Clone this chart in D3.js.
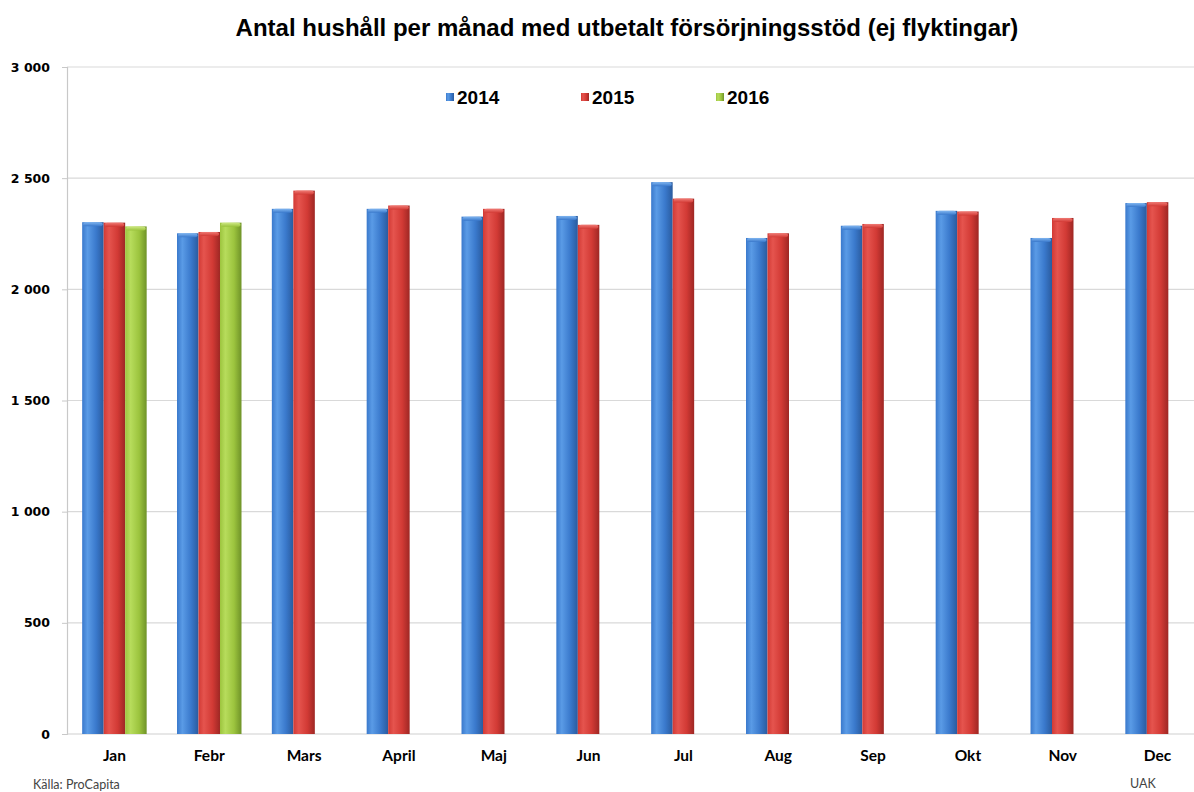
<!DOCTYPE html>
<html>
<head>
<meta charset="utf-8">
<script src="https://cdn.jsdelivr.net/npm/d3@7"></script>
<style>
html,body{margin:0;padding:0;background:#fff;}
svg{display:block;}
</style>
</head>
<body>
<svg id="chart" width="1194" height="792"></svg>
<script>
const months = ["Jan","Febr","Mars","April","Maj","Jun","Jul","Aug","Sep","Okt","Nov","Dec"];
const seriesNames = ["2014","2015","2016"];
const values2014 = [2302,2252,2362,2362,2327,2330,2482,2231,2286,2353,2231,2388];
const values2015 = [2300,2258,2444,2377,2362,2290,2408,2252,2294,2350,2321,2392];
const values2016 = [2283,2300,null,null,null,null,null,null,null,null,null,null];
const yTicks = [0,500,1000,1500,2000,2500,3000];
const titleText = "Antal hushåll per månad med utbetalt försörjningsstöd (ej flyktingar)";
const sourceText = "Källa: ProCapita";
const authorText = "UAK";

(function(){
const allSeries = [values2014, values2015, values2016];
const colors = [
  {light:"#5a9be6", mid:"#3a79cc", dark:"#2a5b9e", cap:"#7fb5f0"},
  {light:"#e5544e", mid:"#d23a35", dark:"#9e2724", cap:"#f07a74"},
  {light:"#b7dc5c", mid:"#9cc43e", dark:"#6f9328", cap:"#cfe985"}
];

const svg = d3.select("#chart");
const W = 1194, H = 792;
const pLeft = 67, pRight = 1205, pTop = 67, pBottom = 734;

const x = d3.scaleBand().domain(months).range([pLeft, pRight]).paddingInner(0.32).paddingOuter(0.16);
const xs = d3.scaleBand().domain(seriesNames).range([0, x.bandwidth()]);
const y = d3.scaleLinear().domain([0, 3000]).range([pBottom, pTop]);

const defs = svg.append("defs");
colors.forEach((c, i) => {
  const g = defs.append("linearGradient").attr("id", "g" + i).attr("x1", "0").attr("x2", "1").attr("y1", "0").attr("y2", "0");
  g.append("stop").attr("offset", "0%").attr("stop-color", c.mid);
  g.append("stop").attr("offset", "25%").attr("stop-color", c.light);
  g.append("stop").attr("offset", "65%").attr("stop-color", c.mid);
  g.append("stop").attr("offset", "100%").attr("stop-color", c.dark);
  const gc = defs.append("linearGradient").attr("id", "c" + i).attr("x1", "0").attr("x2", "0").attr("y1", "0").attr("y2", "1");
  gc.append("stop").attr("offset", "0%").attr("stop-color", c.cap);
  gc.append("stop").attr("offset", "100%").attr("stop-color", c.mid);
});
defs.append("clipPath").attr("id", "clip").append("rect").attr("x", 0).attr("y", 0).attr("width", W).attr("height", H);

// Gridlines
const gridG = svg.append("g");
gridG.selectAll("line").data(yTicks.filter(d => d > 0)).enter().append("line")
  .attr("x1", pLeft).attr("x2", W).attr("y1", d => y(d)).attr("y2", d => y(d))
  .attr("stroke", "#d9d9d9").attr("stroke-width", 1.2);

// Y axis
const yAxis = d3.axisLeft(y).tickValues(yTicks).tickSize(5).tickPadding(12)
  .tickFormat(d => d3.format(",")(d).replace(/,/g, "\u00a0"));
const yg = svg.append("g").attr("transform", `translate(${pLeft},0)`).call(yAxis);
yg.select(".domain").attr("stroke", "#c8c8c8").attr("stroke-width", 1.2);
yg.selectAll(".tick line").attr("stroke", "#c8c8c8");
yg.selectAll(".tick text").attr("font-family", "DejaVu Sans, Verdana, sans-serif").attr("font-weight", "bold").attr("font-size", "12.5px").attr("fill", "#000");

// X axis baseline
svg.append("line").attr("x1", pLeft).attr("x2", W).attr("y1", pBottom).attr("y2", pBottom).attr("stroke", "#d0d0d0").attr("stroke-width", 1.2);

// X labels via axis
const xAxis = d3.axisBottom(x).tickSize(0).tickPadding(16);
const xg = svg.append("g").attr("transform", `translate(0,${pBottom})`).call(xAxis);
xg.select(".domain").remove();
xg.selectAll(".tick text").attr("font-family", "Lato, Open Sans, sans-serif").attr("font-weight", "bold").attr("font-size", "15.5px").attr("fill", "#000");

// Bars
const barsG = svg.append("g").attr("clip-path", "url(#clip)");
allSeries.forEach((vals, si) => {
  const data = months.map((m, i) => ({m, v: vals[i]})).filter(d => d.v != null);
  const g = barsG.append("g");
  g.selectAll("rect.bar").data(data).enter().append("rect").attr("class", "bar")
    .attr("x", d => x(d.m) + xs(seriesNames[si]))
    .attr("y", d => y(d.v))
    .attr("width", xs.bandwidth())
    .attr("height", d => y(0) - y(d.v))
    .attr("fill", `url(#g${si})`);
  g.selectAll("rect.cap").data(data).enter().append("rect").attr("class", "cap")
    .attr("x", d => x(d.m) + xs(seriesNames[si]) + 1)
    .attr("y", d => y(d.v))
    .attr("width", xs.bandwidth() - 2)
    .attr("height", 4)
    .attr("rx", 3)
    .attr("fill", `url(#c${si})`);
});

// Title
svg.append("text").attr("x", 627).attr("y", 36).attr("text-anchor", "middle")
  .attr("font-family", "Liberation Sans, Arial, sans-serif").attr("font-weight", "bold").attr("font-size", "24px")
  .attr("fill", "#000").text(titleText);

// Legend
const legendX = [446, 581, 716];
const lg = svg.append("g");
seriesNames.forEach((s, i) => {
  lg.append("rect").attr("x", legendX[i]).attr("y", 93).attr("width", 8).attr("height", 8).attr("fill", `url(#g${i})`);
  lg.append("text").attr("x", legendX[i] + 11).attr("y", 104)
    .attr("font-family", "Liberation Sans, Arial, sans-serif").attr("font-weight", "bold").attr("font-size", "19px")
    .attr("fill", "#000").text(s);
});

// Footer
svg.append("text").attr("x", 33).attr("y", 789).attr("font-family", "Lato, Open Sans, sans-serif").attr("font-size", "12.5px").attr("fill", "#444").text(sourceText);
svg.append("text").attr("x", 1130).attr("y", 788).attr("font-family", "Lato, Open Sans, sans-serif").attr("font-size", "12.5px").attr("fill", "#444").text(authorText);
})();
</script>
</body>
</html>
